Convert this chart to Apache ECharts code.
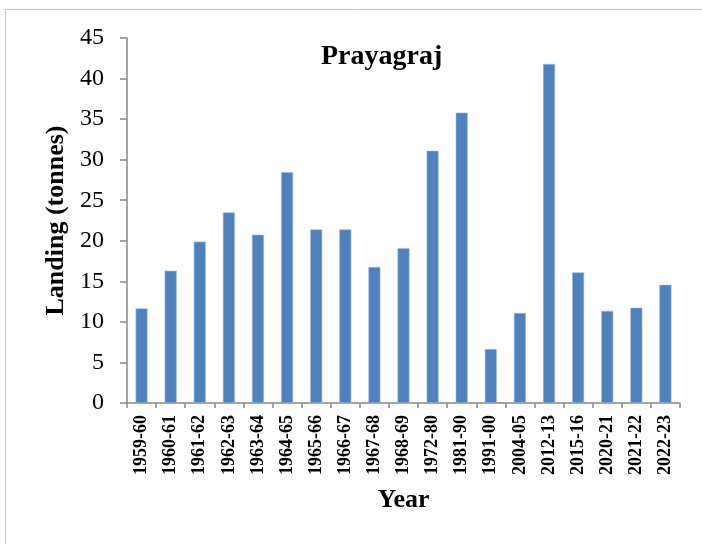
<!DOCTYPE html>
<html>
<head>
<meta charset="utf-8">
<script src="https://cdn.jsdelivr.net/npm/echarts@6/dist/echarts.min.js"></script>
<style>
  html, body { margin: 0; padding: 0; background: #fff; }
  #chart { width: 702px; height: 544px; }
</style>
</head>
<body>
<div id="chart"></div>
<script>
// data
const years = ['1959-60', '1960-61', '1961-62', '1962-63', '1963-64', '1964-65', '1965-66',
  '1966-67', '1967-68', '1968-69', '1972-80', '1981-90', '1991-00', '2004-05', '2012-13',
  '2015-16', '2020-21', '2021-22', '2022-23'];
const landing = [11.66, 16.3, 19.9, 23.5, 20.75, 28.45, 21.4, 21.4, 16.76, 19.1, 31.1, 35.8,
  6.65, 11.1, 41.8, 16.1, 11.36, 11.75, 14.57];
const yTicks = [0, 5, 10, 15, 20, 25, 30, 35, 40, 45];

const serif = '"Liberation Serif", "Times New Roman", serif';
const axisGray = '#868686';

const chart = echarts.init(document.getElementById('chart'));

chart.setOption({
  backgroundColor: '#fff',
  animation: false,
  graphic: [{
    type: 'rect',
    shape: { x: 5.5, y: 9.5, width: 720, height: 560 },
    style: { fill: 'none', stroke: '#c4c4c4', lineWidth: 1 },
    silent: true
  }],
  title: {
    text: 'Prayagraj',
    left: 321,
    top: 43,
    padding: 0,
    textStyle: { fontFamily: serif, fontWeight: 'bold', fontSize: 28, color: '#000' }
  },
  grid: { left: 127, right: 22, top: 38, bottom: 141, containLabel: false },
  xAxis: {
    type: 'category',
    data: years,
    name: 'Year',
    nameLocation: 'middle',
    nameGap: 84,
    nameTextStyle: { fontFamily: serif, fontWeight: 'bold', fontSize: 26, color: '#000' },
    axisLine: { lineStyle: { color: axisGray, width: 1.5 } },
    axisTick: { show: true, length: 5, alignWithLabel: false, lineStyle: { color: axisGray, width: 1.5 } },
    axisLabel: {
      rotate: 90,
      interval: 0,
      margin: 12,
      fontFamily: serif,
      fontWeight: 'bold',
      fontSize: 18,
      color: '#000'
    }
  },
  yAxis: {
    type: 'value',
    min: yTicks[0],
    max: yTicks[yTicks.length - 1],
    interval: 5,
    name: 'Landing (tonnes)',
    nameLocation: 'middle',
    nameRotate: 90,
    nameGap: 56,
    nameTextStyle: { fontFamily: serif, fontWeight: 'bold', fontSize: 26, color: '#000' },
    axisLine: { show: true, lineStyle: { color: axisGray, width: 1.5 } },
    axisTick: { show: true, length: 7, lineStyle: { color: axisGray, width: 1.5 } },
    splitLine: { show: false },
    axisLabel: { margin: 23, fontFamily: serif, fontSize: 24, color: '#000' }
  },
  series: [{
    type: 'bar',
    data: landing,
    barWidth: 12,
    itemStyle: { color: '#4F81BD', borderColor: '#9db9dc', borderWidth: 0.6 }
  }]
});
</script>
</body>
</html>
